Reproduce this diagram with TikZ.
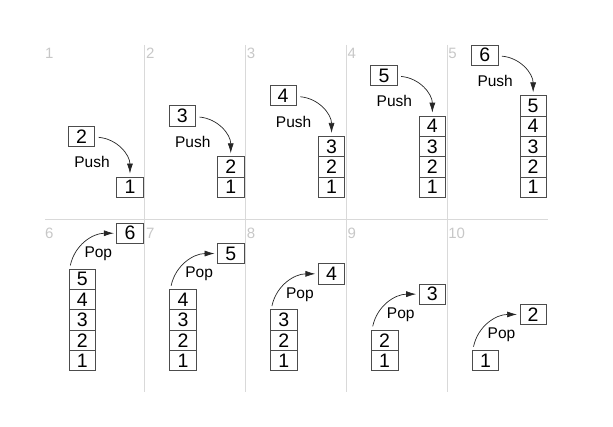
\documentclass[tikz,border=0pt]{standalone}
\usepackage{fontspec}
\setmainfont{Liberation Sans}
\usetikzlibrary{arrows.meta}
\begin{document}
\begin{tikzpicture}[x=1pt, y=1pt,
        cell/.style={rectangle, draw=black!70, line width=0.8pt, minimum width=26.5pt, minimum height=20.3pt, inner sep=0pt, font=\fontsize{19.5}{19.5}\selectfont},
        arrow/.style={-{Latex[length=10pt,width=6pt]}, draw=black!85, line width=0.7pt},
        num/.style={anchor=west, inner sep=0pt, text=black!22, font=\fontsize{15}{15}\selectfont},
        op/.style={inner sep=0pt, font=\fontsize{15.5}{15.5}\selectfont},
        sep/.style={draw=black!15, line width=0.8pt}
    ]
    \useasboundingbox (0,0) rectangle (613,427);

    % Separators
    \draw[sep] (45,208) -- (548,208);
    \foreach \k in {1,...,4}
        \draw[sep] (44+100.8*\k,382) -- (44+100.8*\k,35.3);

    % Push (1 to 5)
    \foreach \k in {0,...,4} {
        \pgfmathtruncatemacro{\p}{\k+1}
        \pgfmathtruncatemacro{\n}{\k+1}
        \pgfmathtruncatemacro{\newv}{\k+2}
        \node[num] (l\p) at (45+100.8*\k,374) {\p};
        \foreach \j in {1,...,\n}
            \node[cell] (s\p-\j) at (129.95+100.8*\k,219.55+20.3*\j) {\j};
        \node[cell] (p\p) at (81.55+100.8*\k,270.35+20.3*\n) {\newv};
        \node[op] (t\p) at (92+100.8*\k,244.5+20.3*\n) {Push};
        \draw[arrow] ([xshift=3.5pt,yshift=-1pt]p\p.east) to[out=-5,in=90] ([yshift=3pt]s\p-\n.north);
    }

    % Pop (6 to 10)
    \foreach \k in {0,...,4} {
        \pgfmathtruncatemacro{\p}{\k+6}
        \pgfmathtruncatemacro{\n}{5-\k}
        \pgfmathtruncatemacro{\newv}{6-\k}
        \node[num] (l\p) at (45+100.8*\k,194) {\p};
        \foreach \j in {1,...,\n}
            \node[cell] (s\p-\j) at (82.25+100.8*\k,46.15+20.3*\j) {\j};
        \node[cell] (p\p) at (129.95+100.8*\k,92.25+20.3*\n) {\newv};
        \node[op] (t\p) at (98.3+100.8*\k,71.8+20.3*\n) {Pop};
        \draw[arrow] ([xshift=1.7pt,yshift=3.3pt]s\p-\n.north west) to[out=78,in=180] ([xshift=-2.5pt]p\p.west);
    }
\end{tikzpicture}
\end{document}
